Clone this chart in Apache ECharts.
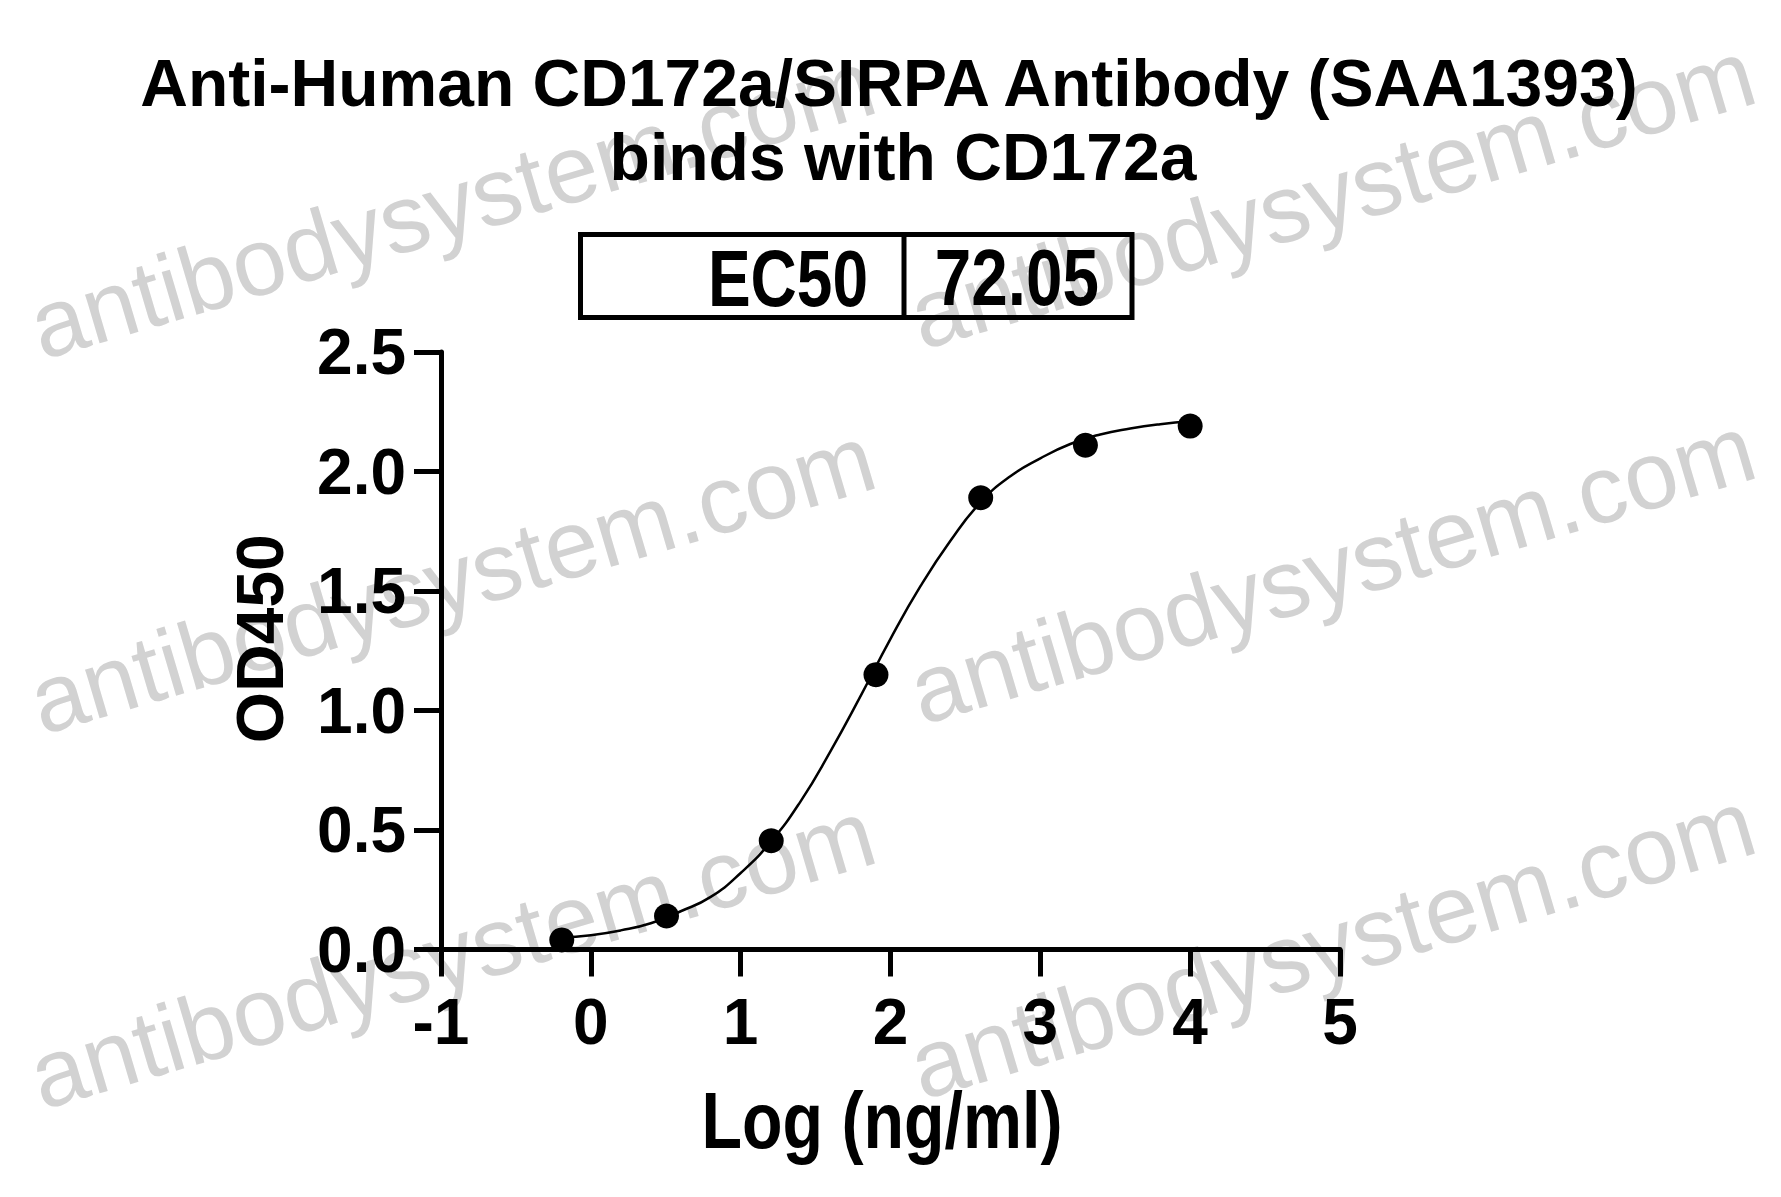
<!DOCTYPE html>
<html>
<head>
<meta charset="utf-8">
<script src="https://cdn.jsdelivr.net/npm/echarts@6/dist/echarts.min.js"></script>
<style>
html,body{margin:0;padding:0;background:#fff;}
#chart{width:1781px;height:1197px;}
</style>
</head>
<body>
<div id="chart"></div>
<script>
// ---- data ----
const titleLine1 = 'Anti-Human CD172a/SIRPA Antibody (SAA1393)';
const titleLine2 = 'binds with CD172a';
const xAxisTitle = 'Log (ng/ml)';
const yAxisTitle = 'OD450';
const ec50Label = 'EC50';
const ec50Value = '72.05';
const watermarkText = 'antibodysystem.com';

// measured points: log10 concentration (ng/ml) and OD450
const pointX = [-0.194, 0.505, 1.204, 1.903, 2.602, 3.301, 4.0];
const pointY = [0.04, 0.14, 0.455, 1.15, 1.89, 2.11, 2.19];

// fitted curve
const curveX = [-0.2, 0.0, 0.2, 0.4, 0.6, 0.8, 1.0, 1.2, 1.4, 1.6, 1.8, 2.0, 2.2, 2.4, 2.6, 2.8, 3.0, 3.2, 3.4, 3.6, 3.8, 4.0];
const curveY = [0.05, 0.06, 0.08, 0.11, 0.16, 0.22, 0.32, 0.45, 0.62, 0.83, 1.06, 1.30, 1.52, 1.71, 1.87, 1.98, 2.055, 2.115, 2.155, 2.18, 2.198, 2.21];

const xTickLabels = ['-1', '0', '1', '2', '3', '4', '5'];
const yTickLabels = ['0.0', '0.5', '1.0', '1.5', '2.0', '2.5'];

const ARIAL = '"Liberation Sans", Arial, Helvetica, sans-serif';

const chart = echarts.init(document.getElementById('chart'), null, {renderer: 'svg'});

const wmCenters = [[452, 204], [1332, 194], [452, 579], [1332, 569], [452, 954], [1332, 944]];
const watermarks = wmCenters.map(c => ({
  type: 'text', x: c[0], y: c[1], rotation: 16.5 * Math.PI / 180, z: -10, silent: true,
  style: {text: watermarkText, fill: '#d2d2d2', font: 'normal 96px ' + ARIAL, align: 'center', verticalAlign: 'middle'}
}));

const option = {
  backgroundColor: '#ffffff',
  animation: false,
  title: [
    {text: titleLine1, left: 884, top: 45, textAlign: 'center',
     textStyle: {fontFamily: ARIAL, fontWeight: 'bold', fontSize: 66, lineHeight: 66, color: '#000'}},
    {text: titleLine2, left: 898, top: 119, textAlign: 'center',
     textStyle: {fontFamily: ARIAL, fontWeight: 'bold', fontSize: 66, lineHeight: 66, color: '#000'}}
  ],
  grid: {left: 441, right: 441, top: 352, bottom: 247.5, containLabel: false},
  xAxis: {
    type: 'value', min: -1, max: 5, interval: 1,
    axisLine: {onZero: false, lineStyle: {color: '#000', width: 5}},
    axisTick: {length: 27, lineStyle: {color: '#000', width: 5}},
    axisLabel: {margin: 40, fontFamily: ARIAL, fontWeight: 'bold', fontSize: 64, lineHeight: 64, color: '#000',
      formatter: v => xTickLabels[Math.round(v + 1)]},
    splitLine: {show: false}
  },
  yAxis: {
    type: 'value', min: 0, max: 2.5, interval: 0.5,
    name: yAxisTitle, nameLocation: 'middle', nameGap: 148, nameRotate: 90,
    nameTextStyle: {fontFamily: ARIAL, fontWeight: 'bold', fontSize: 66, lineHeight: 66, color: '#000', padding: [0, 0, 0, 24]},
    axisLine: {onZero: false, lineStyle: {color: '#000', width: 5}},
    axisTick: {length: 27, lineStyle: {color: '#000', width: 5}},
    axisLabel: {margin: 35, fontFamily: ARIAL, fontWeight: 'bold', fontSize: 64, lineHeight: 64, color: '#000',
      formatter: v => yTickLabels[Math.round(v / 0.5)]},
    splitLine: {show: false}
  },
  series: [
    {
      type: 'line', data: curveX.map((x, i) => [x, curveY[i]]), smooth: 0.5,
      showSymbol: false, symbol: 'none', lineStyle: {color: '#000', width: 2.5}, z: 2, silent: true
    },
    {
      type: 'scatter', data: pointX.map((x, i) => [x, pointY[i]]), symbol: 'circle', symbolSize: 25,
      itemStyle: {color: '#000', opacity: 1}, z: 3, silent: true
    }
  ],
  graphic: [
    ...watermarks,
    // x-axis title (condensed bold, as in the reference)
    {type: 'text', x: 882, y: 1120.6, scaleX: 0.84, z: 6,
     style: {text: xAxisTitle, font: 'bold 79px ' + ARIAL, fill: '#000', align: 'center', verticalAlign: 'middle'}},
    // EC50 table
    {type: 'rect', shape: {x: 580.5, y: 234.5, width: 551.5, height: 83}, z: 5,
     style: {fill: 'none', stroke: '#000', lineWidth: 5}},
    {type: 'line', shape: {x1: 904, y1: 234.5, x2: 904, y2: 317.5}, z: 5,
     style: {stroke: '#000', lineWidth: 5}},
    {type: 'text', x: 868, y: 278, scaleX: 0.8, z: 6,
     style: {text: ec50Label, font: 'bold 80px ' + ARIAL, fill: '#000', align: 'right', verticalAlign: 'middle'}},
    {type: 'text', x: 1099, y: 278, scaleX: 0.82, z: 6,
     style: {text: ec50Value, font: 'bold 80px ' + ARIAL, fill: '#000', align: 'right', verticalAlign: 'middle'}}
  ]
};
chart.setOption(option);
</script>
</body>
</html>
